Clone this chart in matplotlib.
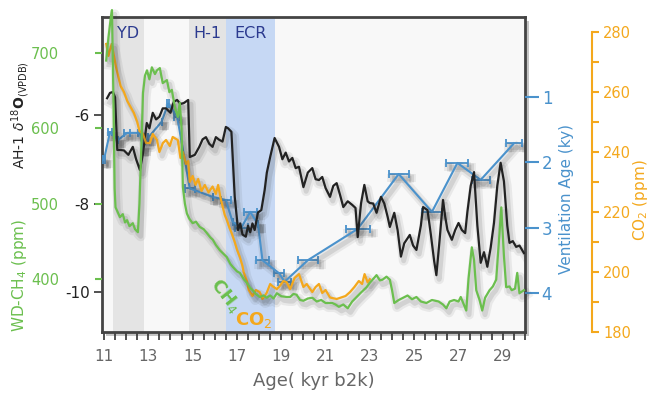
import matplotlib
matplotlib.use("Agg")
import matplotlib.pyplot as plt
import matplotlib.patheffects as pe
from matplotlib.patches import Rectangle
import numpy as np

# ---- data ----
d18o_age = [11.14, 11.27, 11.4, 11.5, 11.6, 11.72, 11.9, 12.1, 12.3, 12.45, 12.62, 12.75, 12.93,
            13.05, 13.2, 13.35, 13.5, 13.65, 13.8, 14.0, 14.15, 14.3, 14.45, 14.6, 14.8, 14.87,
            15.1, 15.3, 15.45, 15.6, 15.75, 15.9, 16.05, 16.2, 16.35, 16.5, 16.6, 16.75, 16.9,
            17.05, 17.15, 17.25, 17.4, 17.5, 17.6, 17.7, 17.8, 17.95, 18.1, 18.25, 18.35, 18.5,
            18.7, 18.9, 19.05, 19.2, 19.35, 19.5, 19.65, 19.8, 20.0, 20.2, 20.4, 20.55, 20.7,
            20.85, 21.0, 21.2, 21.35, 21.5, 21.65, 21.8, 22.0, 22.2, 22.35, 22.45, 22.6, 22.75,
            22.9, 23.0, 23.15, 23.3, 23.5, 23.65, 23.8, 23.9, 24.1, 24.25, 24.4, 24.55, 24.8,
            24.95, 25.1, 25.3, 25.4, 25.6, 25.75, 25.9, 26.0, 26.15, 26.3, 26.4, 26.5, 26.7,
            26.85, 27.0, 27.15, 27.3, 27.4, 27.55, 27.7, 27.85, 28.0, 28.15, 28.3, 28.45, 28.6,
            28.75, 28.9, 29.05, 29.2, 29.3, 29.45, 29.6, 29.75, 29.95]
d18o_val = [-5.62, -5.5, -5.48, -5.6, -6.79, -6.79, -6.8, -6.9, -6.72, -7.0, -7.24, -6.9, -6.18,
            -6.3, -5.95, -6.1, -6.04, -5.85, -5.85, -5.95, -5.7, -5.66, -5.75, -5.73, -5.66,
            -6.95, -6.9, -6.72, -6.55, -6.5, -6.65, -6.72, -6.5, -6.56, -6.6, -6.27, -6.3, -6.38,
            -7.85, -8.6, -8.45, -8.7, -8.75, -8.5, -8.65, -8.45, -8.6, -8.2, -8.15, -7.7, -7.3,
            -6.95, -6.52, -6.72, -7.0, -6.85, -7.05, -6.97, -7.2, -7.17, -7.63, -7.3, -7.2, -7.45,
            -7.47, -7.4, -7.65, -7.85, -7.6, -7.54, -7.8, -8.08, -7.95, -8.03, -8.1, -8.76, -8.0,
            -7.58, -7.95, -7.99, -8.0, -8.21, -7.85, -8.0, -8.3, -8.53, -8.21, -8.6, -9.2, -8.9,
            -8.71, -8.95, -9.05, -8.5, -8.08, -8.15, -8.7, -9.3, -9.62, -8.8, -7.92, -8.3, -8.6,
            -8.82, -8.6, -8.44, -8.6, -8.67, -8.19, -7.6, -7.29, -8.5, -9.34, -9.1, -9.43, -9.0,
            -8.44, -7.6, -7.08, -7.5, -8.5, -8.89, -8.85, -8.98, -8.95, -9.12]

ch4_age = [11.1, 11.2, 11.3, 11.36, 11.42, 11.48, 11.52, 11.6, 11.72, 11.85, 11.95, 12.04, 12.15,
           12.3, 12.4, 12.53, 12.6, 12.68, 12.76, 12.85, 12.94, 13.05, 13.16, 13.3, 13.39, 13.52,
           13.65, 13.84, 13.95, 14.06, 14.2, 14.33, 14.42, 14.5, 14.56, 14.65, 14.74, 14.85, 15.0,
           15.15, 15.32, 15.5, 15.64, 15.8, 15.91, 16.05, 16.23, 16.4, 16.54, 16.7, 16.81, 17.0,
           17.13, 17.3, 17.44, 17.6, 17.71, 17.85, 18.03, 18.2, 18.34, 18.5, 18.65, 18.8, 19.0,
           19.24, 19.4, 19.55, 19.69, 19.85, 20.0, 20.2, 20.4, 20.6, 20.8, 21.0, 21.3, 21.45, 21.6,
           21.8, 22.0, 22.2, 22.4, 22.6, 22.85, 23.0, 23.15, 23.3, 23.45, 23.57, 23.75, 23.9, 24.0,
           24.1, 24.3, 24.5, 24.7, 24.9, 25.1, 25.3, 25.55, 25.8, 26.1, 26.3, 26.45, 26.6, 26.8,
           27.0, 27.1, 27.25, 27.35, 27.45, 27.6, 27.7, 27.8, 27.95, 28.07, 28.2, 28.4, 28.55,
           28.7, 28.8, 28.93, 29.05, 29.15, 29.3, 29.4, 29.55, 29.65, 29.75, 29.95]
ch4_val = [690, 720, 745, 757, 650, 520, 495, 490, 482, 486, 475, 478, 470, 474, 466, 462, 500,
           570, 647, 670, 677, 665, 681, 672, 677, 680, 660, 664, 648, 651, 628, 615, 634, 600,
           522, 500, 487, 480, 474, 476, 469, 466, 461, 455, 452, 445, 438, 433, 429, 420, 416,
           410, 408, 400, 395, 388, 385, 380, 376, 378, 375, 378, 374, 381, 377, 376, 376, 380,
           379, 372, 371, 374, 375, 370, 372, 368, 368, 366, 363, 366, 361, 370, 376, 382, 389,
           395, 400, 405, 398, 399, 403, 399, 385, 368, 372, 375, 378, 373, 376, 370, 368, 372,
           370, 366, 361, 370, 372, 370, 376, 365, 358, 400, 442, 425, 385, 372, 358, 375, 385,
           390, 399, 440, 495, 430, 389, 390, 385, 387, 408, 381, 385]

co2_age = [11.1, 11.2, 11.27, 11.35, 11.45, 11.55, 11.65, 11.75, 11.9, 12.05, 12.2, 12.35, 12.5,
           12.6, 12.76, 12.9, 13.07, 13.2, 13.39, 13.5, 13.66, 13.8, 13.97, 14.1, 14.33, 14.45,
           14.56, 14.7, 14.8, 14.87, 15.0, 15.13, 15.25, 15.4, 15.55, 15.72, 15.9, 16.05, 16.15,
           16.28, 16.45, 16.54, 16.65, 16.76, 16.9, 17.0, 17.13, 17.25, 17.3, 17.45, 17.53, 17.7,
           17.85, 18.03, 18.15, 18.34, 18.5, 18.6, 18.8, 18.93, 19.1, 19.24, 19.4, 19.6, 19.8,
           20.0, 20.15, 20.4, 20.55, 20.7, 20.85, 21.0, 21.2, 21.5, 21.7, 21.9, 22.1, 22.3, 22.5,
           22.65, 22.76, 22.9, 23.0]
co2_val = [276, 272, 274, 276, 272, 268, 265, 262, 260, 257, 255, 253, 250, 247, 246, 243, 243,
           246, 244, 240, 243, 244, 242, 245, 244, 238, 240, 236, 237, 230, 232, 229, 231, 227,
           229, 226.5, 228.5, 226, 229, 224, 219, 217.5, 215, 213, 210, 207.5, 205, 202, 200,
           197, 194, 192, 194, 193.3, 191, 193, 196, 195.3, 194.3, 195.3, 197, 196.6, 194.3, 198,
           199.3, 195, 196, 193.3, 195, 196, 193, 194, 191.5, 191, 191.5, 192, 193.3, 195, 197,
           196, 199.3, 196.5, 197.6]

vent_age = [11.0, 11.27, 11.63, 12.04, 12.62, 12.76, 13.0, 13.6, 13.9, 14.3, 14.87, 15.9, 16.5,
            16.8, 17.2, 17.6, 17.95, 18.15, 18.9, 19.15, 20.2, 22.45, 24.3, 25.8, 26.95, 28.0, 29.5]
vent_val = [1.96, 1.54, 1.66, 1.55, 1.55, 1.78, 1.62, 1.38, 1.1, 1.3, 2.4, 2.53, 2.58, 2.91, 3.0,
            2.76, 2.95, 3.5, 3.7, 3.83, 3.5, 3.02, 2.18, 2.76, 2.01, 2.27, 1.71]
vent_err = [0.05, 0.1, 0.0, 0.15, 0.1, 0.0, 0.0, 0.0, 0.05, 0.12, 0.22, 0.0, 0.22, 0.0, 0.3,
            0.3, 0.0, 0.3, 0.22, 0.3, 0.45, 0.55, 0.45, 0.45, 0.5, 0.4, 0.35]

bands = [(11.4, 12.8, '#e4e4e4', 'YD'), (14.83, 16.5, '#e4e4e4', 'H-1'), (16.5, 18.7, '#c6d8f4', 'ECR')]

GREEN = '#6bbf4e'
ORANGE = '#f4a81c'
BLUE = '#4a92cc'
NAVY = '#2b3a8f'

shadow = [pe.SimpleLineShadow(offset=(2, -3), shadow_color='0.2', alpha=0.08, linewidth=7),
          pe.SimpleLineShadow(offset=(2, -3), shadow_color='0.2', alpha=0.12, linewidth=3.5),
          pe.Normal()]

fig = plt.figure(figsize=(6.48, 3.96), dpi=100)
L, B, W, H = 102 / 648, 1 - 332 / 396, 423 / 648, 315 / 396

# frame shadow, drawn below every axes
fig.patches.append(Rectangle((L + 4 / 648, B - 4 / 396), W, H, transform=fig.transFigure,
                             facecolor='0.5', alpha=0.45, zorder=-5))

ax = fig.add_axes([L, B, W, H])
ax.set_facecolor('#f8f8f8')

for x0, x1, c, lab in bands:
    ax.axvspan(x0, x1, color=c, lw=0, zorder=0)
    ax.text((x0 + x1) / 2, -4.15, lab, color=NAVY, fontsize=11.5, ha='center', va='center')

ax.set_xlim(10.91, 29.96)
ax.set_ylim(-10.904, -3.785)
ax.set_yticks([-6, -8, -10])
ax.set_yticklabels(['-6', '-8', '-10'])
ax.tick_params(axis='y', length=6, width=1.2, color='#333', labelcolor='#222', labelsize=11, pad=3)
ax.set_xticks(np.arange(11, 30, 2))
ax.set_xticks(np.arange(11, 30.01, 0.5), minor=True)
ax.tick_params(axis='x', which='both', length=6, width=1.2, color='#333', labelcolor='#666',
               labelsize=11, pad=6)
for s in ax.spines.values():
    s.set_color('#444')
    s.set_linewidth(2)
ax.set_xlabel('Age( kyr b2k)', color='#666', fontsize=13, labelpad=6)

# ventilation age (inverted, right)
axv = ax.twinx()
axv.set_ylim(4.6, -0.225)
axv.errorbar(vent_age, vent_val, xerr=vent_err, color=BLUE, lw=1.5, elinewidth=1.3,
             capsize=3, capthick=1.3, path_effects=shadow)
axv.set_yticks([1, 2, 3, 4])
axv.tick_params(axis='y', length=10, width=1.5, color=BLUE, labelcolor=BLUE, labelsize=12, pad=2)
for s in axv.spines.values():
    s.set_visible(False)

# d18O curve
axd = ax.twinx()
axd.set_ylim(ax.get_ylim())
axd.plot(d18o_age, d18o_val, color='#222', lw=1.6, path_effects=shadow)
axd.set_yticks([])
for s in axd.spines.values():
    s.set_visible(False)

# CO2 (offset right)
axc = ax.twinx()
axc.set_ylim(180.33, 284.98)
axc.plot(co2_age, co2_val, color=ORANGE, lw=1.6, path_effects=shadow)
for k in ['top', 'bottom', 'left']:
    axc.spines[k].set_visible(False)
axc.spines['right'].set_position(('axes', 1.158))
axc.spines['right'].set_bounds(180, 280)
axc.spines['right'].set_color(ORANGE)
axc.spines['right'].set_linewidth(1.5)
axc.set_yticks(np.arange(180, 281, 20))
axc.set_yticks(np.arange(190, 280, 20), minor=True)
axc.tick_params(axis='y', which='both', length=5, width=1.5, color=ORANGE, labelcolor=ORANGE,
                labelsize=10.5, pad=3)

# CH4 (ticks on the left)
axm = ax.twinx()
axm.set_ylim(329.5, 747.8)
axm.plot(ch4_age, ch4_val, color=GREEN, lw=1.6, path_effects=shadow, clip_on=False)
axm.yaxis.set_ticks_position('left')
axm.set_yticks([400, 500, 600, 700])
axm.tick_params(axis='y', length=5, width=1.5, color=GREEN, labelcolor=GREEN, labelsize=10.5,
                pad=26)
for s in axm.spines.values():
    s.set_visible(False)

axm.text(16.5, 378, 'CH$_4$', color=GREEN, fontsize=13, fontweight='bold', rotation=-52,
         ha='center', va='center')
axm.text(17.75, 345, 'CO$_2$', color=ORANGE, fontsize=13, fontweight='bold',
         ha='center', va='center')

# axis titles
fig.text(21 / 648, 1 - 115 / 396, r'AH-1 $\delta^{18}\mathbf{O}_{\mathrm{(VPDB)}}$', rotation=90,
         ha='center', va='center', fontsize=10, color='#222')
fig.text(20 / 648, 1 - 275 / 396, 'WD-CH$_4$ (ppm)', rotation=90, ha='center', va='center',
         fontsize=11, color=GREEN)
fig.text(566 / 648, 1 - 199 / 396, 'Ventilation Age (ky)', rotation=90, ha='center',
         va='center', fontsize=11, color=BLUE)
fig.text(640 / 648, 1 - 200 / 396, 'CO$_2$ (ppm)', rotation=90, ha='center', va='center',
         fontsize=11, color=ORANGE)

fig.savefig('out.png', dpi=100)
